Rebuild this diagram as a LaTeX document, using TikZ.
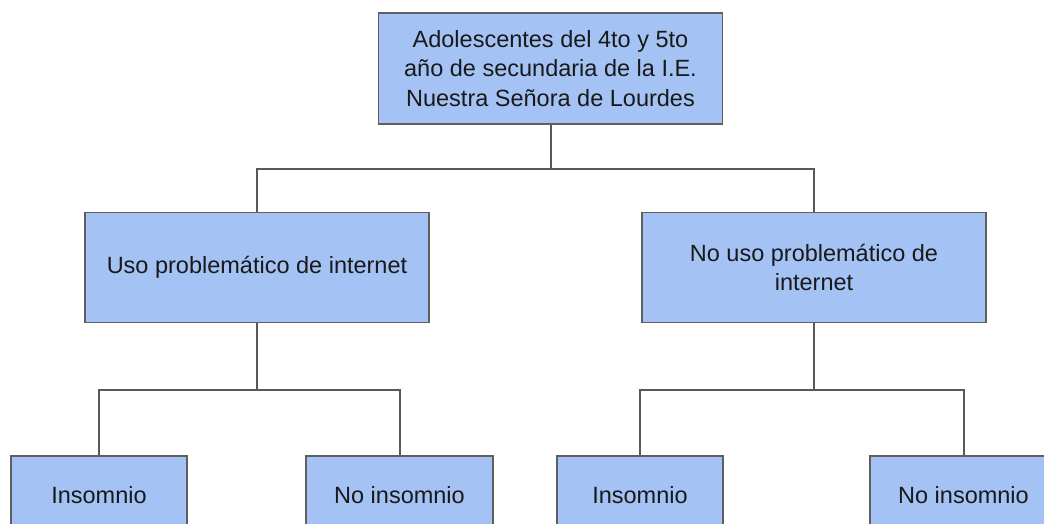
\documentclass[tikz,border=0pt]{standalone}
\usepackage{fontspec}
\setmainfont{Liberation Sans}
\definecolor{boxfill}{HTML}{A4C2F4}
\definecolor{boxline}{HTML}{5F5F5F}
\definecolor{conn}{HTML}{595959}
\begin{document}
\begin{tikzpicture}[x=1pt,y=-1pt,
  box/.style={draw=boxline,fill=boxfill,line width=1.3pt,rectangle,inner sep=0pt,align=center,
    font=\fontsize{23.5}{29.5}\selectfont,text=black!90},
  link/.style={draw=conn,line width=2pt}]
\clip (0,0) rectangle (1044,524);
\fill[white] (0,0) rectangle (1044,524);
\node[box,minimum width=344pt,minimum height=111pt] (top) at (550.5,68.5)
  {Adolescentes del 4to y 5to\\año de secundaria de la I.E.\\Nuestra Señora de Lourdes};
\node[box,minimum width=344pt,minimum height=110pt] (ua) at (257,267.5) {Uso problemático de internet};
\node[box,minimum width=344pt,minimum height=110pt] (ub) at (814,267.5) {No uso problemático de\\internet};
\node[box,minimum width=176pt,minimum height=78pt] (a1) at (99,495) {Insomnio};
\node[box,minimum width=187pt,minimum height=78pt] (a2) at (399.5,495) {No insomnio};
\node[box,minimum width=166pt,minimum height=78pt] (b1) at (640,495) {Insomnio};
\node[box,minimum width=187pt,minimum height=78pt] (b2) at (963.5,495) {No insomnio};
\draw[link] (top.south) -- ++(0,44) coordinate (j0) -| (ua.north);
\draw[link] (j0) -| (ub.north);
\draw[link] (ua.south) -- ++(0,67) coordinate (j1) -| (a1.north);
\draw[link] (j1) -| (a2.north);
\draw[link] (ub.south) -- ++(0,67) coordinate (j2) -| (b1.north);
\draw[link] (j2) -| (b2.north);
\end{tikzpicture}
\end{document}
